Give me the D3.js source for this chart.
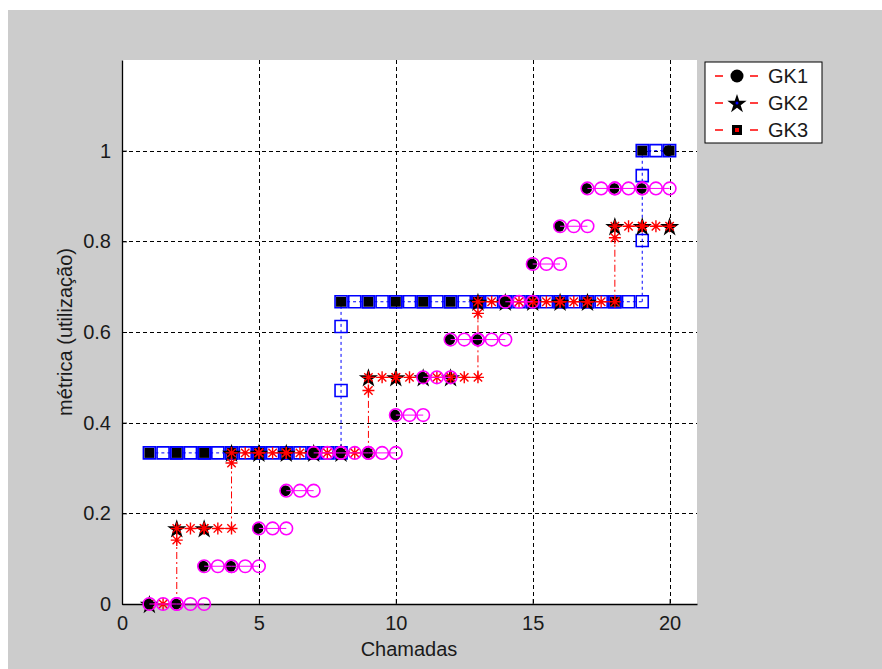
<!DOCTYPE html>
<html>
<head>
<meta charset="utf-8">
<script src="https://cdn.jsdelivr.net/npm/d3@7"></script>
<style>
    html, body { margin: 0; padding: 0; background: #fff; }
    svg text { font-family: "Liberation Sans", Arial, sans-serif; fill: #1a1a1a; }
</style>
</head>
<body>
<div id="container"></div>
<script>
// chamadas (x) and the three metrics
const calls = [1, 2, 3, 4, 5, 6, 7, 8, 9, 10, 11, 12, 13, 14, 15, 16, 17, 18, 19, 20];
const gk1 = [0, 0, 0.0833, 0.0833, 0.1667, 0.25, 0.3333, 0.3333, 0.3333, 0.4167,
             0.5, 0.5833, 0.5833, 0.6667, 0.75, 0.8333, 0.9167, 0.9167, 0.9167, 1];
const gk2 = [0, 0.1667, 0.1667, 0.3333, 0.3333, 0.3333, 0.3333, 0.3333, 0.5, 0.5,
             0.5, 0.5, 0.6667, 0.6667, 0.6667, 0.6667, 0.6667, 0.8333, 0.8333, 0.8333];
const gk3 = [0.3333, 0.3333, 0.3333, 0.3333, 0.3333, 0.3333, 0.3333, 0.6667, 0.6667, 0.6667,
             0.6667, 0.6667, 0.6667, 0.6667, 0.6667, 0.6667, 0.6667, 0.6667, 1, 1];
// extra markers sitting on the vertical steps
const gk2Rise = [[2, 0.141], [4, 0.311], [9, 0.471], [13, 0.641], [18, 0.808]];
const gk3Rise = [[8, 0.471], [8, 0.612], [19, 0.802], [19, 0.945]];

const xTicks = [0, 5, 10, 15, 20];
const yTicks = [0, 0.2, 0.4, 0.6, 0.8, 1];
const legendNames = ["GK1", "GK2", "GK3"];

const W = 882, H = 669;
const svg = d3.select("#container").append("svg")
    .attr("width", W)
    .attr("height", H);

svg.append("rect")
    .attr("x", 8).attr("y", 10)
    .attr("width", W - 8).attr("height", H - 10)
    .attr("fill", "#cccccc");

const x = d3.scaleLinear().domain([0, 21]).range([122, 697]);
const y = d3.scaleLinear().domain([0, 1.2]).range([604, 60]);

svg.append("rect")
    .attr("x", x(0)).attr("y", y(1.2))
    .attr("width", x(21) - x(0)).attr("height", y(0) - y(1.2))
    .attr("fill", "#fff");

// grid
const grid = svg.append("g")
    .attr("stroke", "#000")
    .attr("stroke-width", 1)
    .attr("stroke-dasharray", "4,3");
grid.selectAll("line.gx")
    .data(xTicks.filter(d => d > 0))
    .join("line")
    .attr("x1", d => Math.round(x(d)) + 0.5).attr("x2", d => Math.round(x(d)) + 0.5)
    .attr("y1", y(1.2)).attr("y2", y(0));
grid.selectAll("line.gy")
    .data(yTicks.filter(d => d > 0))
    .join("line")
    .attr("y1", d => Math.round(y(d)) + 0.5).attr("y2", d => Math.round(y(d)) + 0.5)
    .attr("x1", x(0)).attr("x2", x(21));

// axes, MATLAB style ticks inside
const xAxis = svg.append("g")
    .attr("transform", `translate(0,${y(0)})`)
    .call(d3.axisBottom(x).tickValues(xTicks).tickSizeInner(-5).tickSizeOuter(0)
        .tickPadding(12).tickFormat(d3.format("~g")));
const yAxis = svg.append("g")
    .attr("transform", `translate(${x(0)},0)`)
    .call(d3.axisLeft(y).tickValues(yTicks).tickSizeInner(-5).tickSizeOuter(0)
        .tickPadding(11).tickFormat(d3.format("~g")));
[xAxis, yAxis].forEach(a => {
    a.select(".domain").attr("stroke", "#000").attr("stroke-width", 1.3);
    a.selectAll(".tick line").attr("stroke", "#000");
    a.selectAll(".tick text").attr("font-size", 20).attr("font-family", null).attr("fill", "#1a1a1a");
});

svg.append("text")
    .attr("x", 409).attr("y", 656)
    .attr("text-anchor", "middle")
    .attr("font-size", 20)
    .text("Chamadas");
svg.append("text")
    .attr("transform", `translate(72,${(y(0) + y(1.2)) / 2}) rotate(-90)`)
    .attr("text-anchor", "middle")
    .attr("font-size", 20)
    .text("métrica (utilização)");

// stairs helpers
const horiz = vals => vals.slice(0, -1).map((v, i) => [[calls[i], v], [calls[i + 1], v]]);
const vert = vals => vals.slice(0, -1)
    .map((v, i) => [[calls[i + 1], v], [calls[i + 1], vals[i + 1]]])
    .filter(s => s[0][1] !== s[1][1]);
const stairMarks = vals => vals.slice(0, -1)
    .flatMap((v, i) => [[calls[i], v], [calls[i] + 0.5, v], [calls[i + 1], v]]);
const line = d3.line().x(d => x(d[0])).y(d => y(d[1]));

const asterisk = r => `M${-r},0H${r}M0,${-r}V${r}` +
    `M${-r * 0.7},${-r * 0.7}L${r * 0.7},${r * 0.7}M${-r * 0.7},${r * 0.7}L${r * 0.7},${-r * 0.7}`;
const star = d3.symbol(d3.symbolStar, 115)();
const square = d3.symbol(d3.symbolSquare, 144)();
const blackSquare = d3.symbol(d3.symbolSquare, 100)();

const plot = svg.append("g");

// GK3: blue dotted stairs with open squares
plot.append("g")
    .attr("fill", "none").attr("stroke", "#0000ff").attr("stroke-dasharray", "3,3")
    .selectAll("path")
    .data(horiz(gk3).concat(vert(gk3)))
    .join("path")
    .attr("d", line);
plot.append("g")
    .selectAll("path")
    .data(calls.map((c, i) => [c, gk3[i]]))
    .join("path")
    .attr("transform", d => `translate(${x(d[0])},${y(d[1])})`)
    .attr("d", blackSquare)
    .attr("fill", "#000");
plot.append("g")
    .attr("fill", "none").attr("stroke", "#0000ff").attr("stroke-width", 1.6)
    .selectAll("path")
    .data(stairMarks(gk3).concat(gk3Rise))
    .join("path")
    .attr("transform", d => `translate(${x(d[0])},${y(d[1])})`)
    .attr("d", square);

// GK2: black pentagrams, red dash-dot stairs with asterisks
plot.append("g")
    .selectAll("path")
    .data(calls.map((c, i) => [c, gk2[i]]))
    .join("path")
    .attr("transform", d => `translate(${x(d[0])},${y(d[1]) + 1})`)
    .attr("d", star)
    .attr("fill", "#000");
plot.append("g")
    .attr("fill", "none").attr("stroke", "#ff0000").attr("stroke-dasharray", "7,3,2,3")
    .selectAll("path")
    .data(horiz(gk2).concat(vert(gk2)))
    .join("path")
    .attr("d", line);
plot.append("g")
    .attr("fill", "none").attr("stroke", "#ff0000").attr("stroke-width", 1.4)
    .selectAll("path")
    .data(stairMarks(gk2).concat(gk2Rise))
    .join("path")
    .attr("transform", d => `translate(${x(d[0])},${y(d[1])})`)
    .attr("d", asterisk(6));

// GK1: black dots, magenta steps with open circles
plot.append("g")
    .selectAll("circle")
    .data(calls.map((c, i) => [c, gk1[i]]))
    .join("circle")
    .attr("cx", d => x(d[0]) - 1).attr("cy", d => y(d[1]))
    .attr("r", 5.5)
    .attr("fill", "#000");
plot.append("g")
    .attr("fill", "none").attr("stroke", "#ff00ff")
    .selectAll("path")
    .data(horiz(gk1))
    .join("path")
    .attr("d", line);
plot.append("g")
    .attr("fill", "none").attr("stroke", "#ff00ff").attr("stroke-width", 1.6)
    .selectAll("circle")
    .data(stairMarks(gk1))
    .join("circle")
    .attr("cx", d => x(d[0])).attr("cy", d => y(d[1]))
    .attr("r", 6.3);

// legend
const legend = svg.append("g").attr("transform", "translate(705,62)");
legend.append("rect")
    .attr("width", 117).attr("height", 81)
    .attr("fill", "#fff").attr("stroke", "#000");
const item = legend.selectAll("g")
    .data(legendNames)
    .join("g")
    .attr("transform", (d, i) => `translate(0,${14 + i * 27})`);
item.append("line")
    .attr("x1", 10).attr("x2", 53)
    .attr("stroke", "#ff0000").attr("stroke-width", 1.5)
    .attr("stroke-dasharray", "8,27");
item.append("text")
    .attr("x", 63).attr("dy", "0.36em")
    .attr("font-size", 20)
    .text(d => d);
item.filter((d, i) => i === 0).append("circle")
    .attr("cx", 32).attr("r", 6.5).attr("fill", "#000");
item.filter((d, i) => i === 1).append("path")
    .attr("transform", "translate(32,1)")
    .attr("d", star).attr("fill", "#000");
item.filter((d, i) => i === 1).append("circle")
    .attr("cx", 32).attr("r", 1.5).attr("fill", "#0000ff");
item.filter((d, i) => i === 2).append("path")
    .attr("transform", "translate(32,0)")
    .attr("d", blackSquare).attr("fill", "#000");
item.filter((d, i) => i === 2).append("rect")
    .attr("x", 30).attr("y", -2).attr("width", 4).attr("height", 4).attr("fill", "#ff0000");
</script>
</body>
</html>
